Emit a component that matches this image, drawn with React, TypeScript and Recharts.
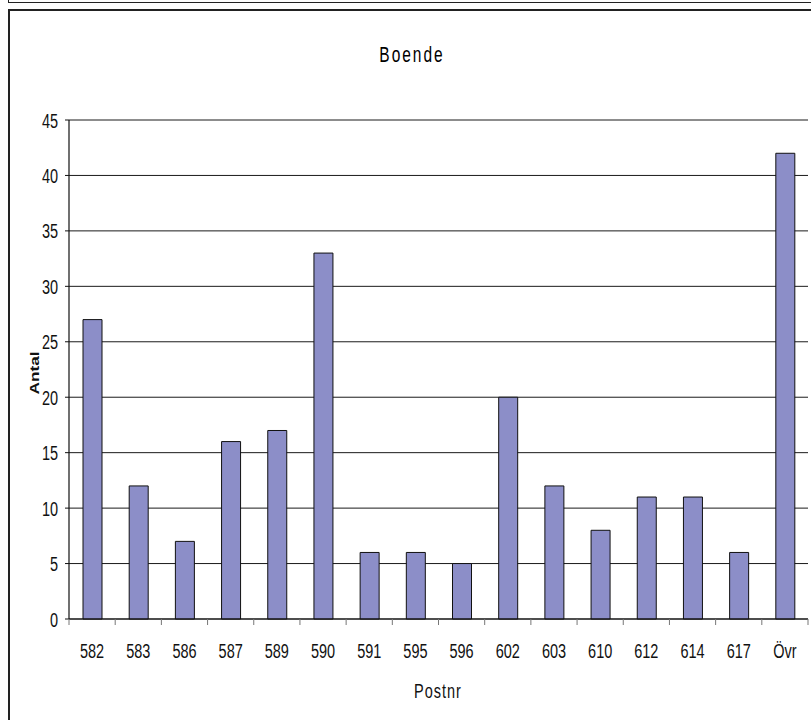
import React from 'react';
import { BarChart, Bar, XAxis, YAxis, CartesianGrid } from 'recharts';

const categories = ['582', '583', '586', '587', '589', '590', '591', '595', '596', '602', '603', '610', '612', '614', '617', 'Övr'];
const antal = [27, 12, 7, 16, 17, 33, 6, 6, 5, 20, 12, 8, 11, 11, 6, 42];
const yTicks = [0, 5, 10, 15, 20, 25, 30, 35, 40, 45];

const data = categories.map((c, i) => ({ postnr: c, antal: antal[i] }));

const W = 811;
const H = 720;
const PLOT_LEFT = 69;
const PLOT_RIGHT = 808;
const PLOT_TOP = 120;
const PLOT_BOTTOM = 619;
const BAND = (PLOT_RIGHT - PLOT_LEFT) / categories.length;

const NARROW = '"Liberation Sans Narrow", "Arial Narrow", sans-serif';
const SY = 1.4;

const XTick = (props: any) => {
  const { x, payload, index } = props;
  const last = index === categories.length - 1;
  return (
    <g>
      <line x1={x - BAND / 2} x2={x - BAND / 2} y1={PLOT_BOTTOM} y2={PLOT_BOTTOM + 6} stroke="#777" strokeWidth={1} />
      {last && (
        <line x1={x + BAND / 2} x2={x + BAND / 2} y1={PLOT_BOTTOM} y2={PLOT_BOTTOM + 6} stroke="#777" strokeWidth={1} />
      )}
      <g transform={`translate(${x},${PLOT_BOTTOM + 39}) scale(1,${SY})`}>
        <text x={0} y={0} textAnchor="middle" fontFamily={NARROW} fontSize={14.5} fill="#111">
          {payload.value}
        </text>
      </g>
    </g>
  );
};

const YTick = (props: any) => {
  const { y, payload } = props;
  return (
    <g transform={`translate(${PLOT_LEFT - 11},${y + 7.5}) scale(1,${SY})`}>
      <text x={0} y={0} textAnchor="end" fontFamily={NARROW} fontSize={14.5} fill="#111">
        {payload.value}
      </text>
    </g>
  );
};

export default function App() {
  return (
    <div style={{ position: 'absolute', left: 0, top: 0, width: W, height: H, overflow: 'hidden', background: '#fff' }}>
      <div style={{ position: 'absolute', left: 8, top: -20, width: 900, height: 21, border: '1.5px solid #222' }} />
      <div style={{ position: 'absolute', left: 8, top: 8.5, width: 900, height: 800, border: '2px solid #222' }} />
      <div style={{ position: 'absolute', left: 0, top: 0 }}>
        <BarChart
          width={W}
          height={H}
          data={data}
          margin={{ top: PLOT_TOP, right: W - PLOT_RIGHT, bottom: H - PLOT_BOTTOM - 30, left: 9 }}
        >
          <CartesianGrid vertical={false} stroke="#1a1a1a" strokeWidth={1} />
          <XAxis
            dataKey="postnr"
            height={30}
            tickLine={false}
            axisLine={{ stroke: '#111', strokeWidth: 1.2 }}
            tick={<XTick />}
            interval={0}
          />
          <YAxis
            width={60}
            domain={[0, 45]}
            ticks={yTicks}
            interval={0}
            tickSize={4}
            tickLine={{ stroke: '#111' }}
            axisLine={{ stroke: '#111', strokeWidth: 1.2 }}
            tick={<YTick />}
          />
          <YAxis yAxisId="r" orientation="right" width={0} tick={false} tickLine={false} axisLine={{ stroke: '#888' }} domain={[0, 45]} />
          <Bar dataKey="antal" fill="#8C8EC8" stroke="#111" strokeWidth={1} barSize={19} isAnimationActive={false} />
        </BarChart>
      </div>
      <svg style={{ position: 'absolute', left: 0, top: 0 }} width={W} height={H}>
        <g transform={`translate(412,62) scale(1,${SY})`}>
          <text x={0} y={0} textAnchor="middle" fontFamily={NARROW} fontSize={15.5} letterSpacing={2} fill="#000">
            Boende
          </text>
        </g>
        <g transform={`translate(438,698) scale(1,${SY})`}>
          <text x={0} y={0} textAnchor="middle" fontFamily={NARROW} fontSize={14.5} letterSpacing={1} fill="#111">
            Postnr
          </text>
        </g>
        <g transform={`translate(39,373) scale(1,1.43) rotate(-90)`}>
          <text x={0} y={0} textAnchor="middle" fontFamily='"Liberation Sans", Arial, sans-serif' fontWeight="bold" fontSize={12} fill="#111">
            Antal
          </text>
        </g>
      </svg>
    </div>
  );
}
